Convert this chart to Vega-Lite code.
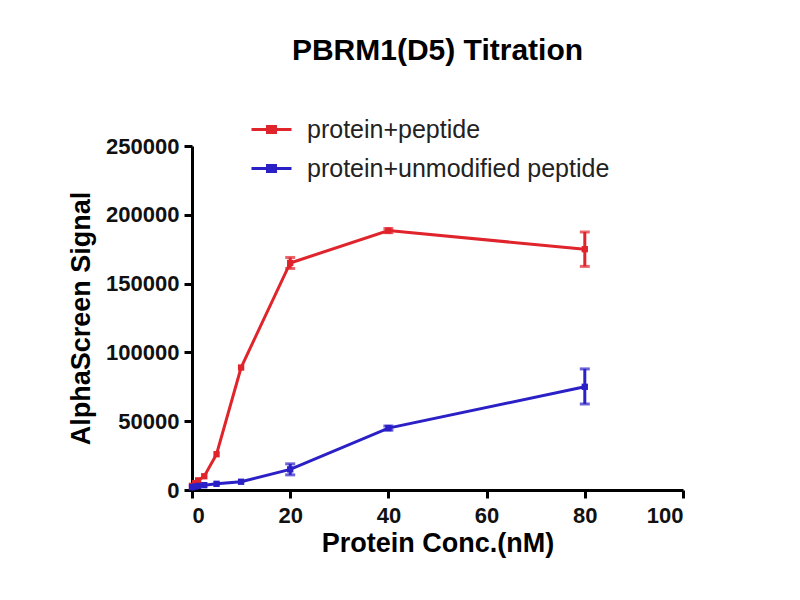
{
  "$schema": "https://vega.github.io/schema/vega-lite/v6.json",
  "autosize": {"type": "none"},
  "padding": {"left": 192, "top": 146, "right": 117, "bottom": 110},
  "width": 491,
  "height": 344,
  "background": "white",
  "title": {
    "text": "PBRM1(D5) Titration",
    "font": "Liberation Sans",
    "fontSize": 30,
    "fontWeight": "bold",
    "color": "#000000",
    "anchor": "middle",
    "frame": "group",
    "offset": 42
  },
  "data": {
    "values": [
      {"conc": 0, "signal": 3000, "series": "protein+peptide"},
      {"conc": 0.625, "signal": 5000, "series": "protein+peptide"},
      {"conc": 1.25, "signal": 7000, "series": "protein+peptide"},
      {"conc": 2.5, "signal": 10000, "series": "protein+peptide"},
      {"conc": 5, "signal": 26000, "series": "protein+peptide"},
      {"conc": 10, "signal": 89000, "series": "protein+peptide"},
      {"conc": 20, "signal": 165000, "lo": 161000, "hi": 169000, "series": "protein+peptide"},
      {"conc": 40, "signal": 188500, "lo": 187000, "hi": 190000, "series": "protein+peptide"},
      {"conc": 80, "signal": 175000, "lo": 162500, "hi": 187500, "series": "protein+peptide"},
      {"conc": 0, "signal": 2000, "series": "protein+unmodified peptide"},
      {"conc": 0.625, "signal": 2500, "series": "protein+unmodified peptide"},
      {"conc": 1.25, "signal": 3000, "series": "protein+unmodified peptide"},
      {"conc": 2.5, "signal": 3500, "series": "protein+unmodified peptide"},
      {"conc": 5, "signal": 4500, "series": "protein+unmodified peptide"},
      {"conc": 10, "signal": 6000, "series": "protein+unmodified peptide"},
      {"conc": 20, "signal": 15000, "lo": 11000, "hi": 19000, "series": "protein+unmodified peptide"},
      {"conc": 40, "signal": 45000, "lo": 43500, "hi": 46500, "series": "protein+unmodified peptide"},
      {"conc": 80, "signal": 75000, "lo": 62500, "hi": 88000, "series": "protein+unmodified peptide"}
    ]
  },
  "encoding": {
    "x": {
      "field": "conc",
      "type": "quantitative",
      "scale": {"domain": [0, 100], "nice": false},
      "axis": {"values": [0, 20, 40, 60, 80, 100], "title": "Protein Conc.(nM)", "titlePadding": 4, "labelPadding": 7}
    },
    "y": {
      "field": "signal",
      "type": "quantitative",
      "scale": {"domain": [0, 250000], "nice": false},
      "axis": {"values": [0, 50000, 100000, 150000, 200000, 250000], "format": "d", "title": "AlphaScreen Signal", "titlePadding": 10}
    },
    "color": {
      "field": "series",
      "type": "nominal",
      "scale": {"domain": ["protein+peptide", "protein+unmodified peptide"], "range": ["#e0242c", "#2b20c6"]},
      "legend": {
        "title": null,
        "orient": "none",
        "legendX": 58,
        "legendY": -38,
        "symbolType": "M-1,0L1,0M-0.2,-0.15L0.2,-0.15L0.2,0.15L-0.2,0.15Z",
        "symbolSize": 1600,
        "symbolStrokeWidth": 3,
        "labelFont": "Liberation Sans",
        "labelFontSize": 25,
        "labelColor": "#222222",
        "labelOffset": 14,
        "labelLimit": 500,
        "rowPadding": 4
      }
    }
  },
  "layer": [
    {"mark": {"type": "line", "strokeWidth": 3}},
    {"mark": {"type": "point", "shape": "square", "filled": true, "size": 40, "opacity": 1}},
    {
      "transform": [{"filter": "isValid(datum.lo)"}],
      "mark": {"type": "rule", "strokeWidth": 3},
      "encoding": {"y": {"field": "lo", "type": "quantitative"}, "y2": {"field": "hi"}}
    },
    {
      "transform": [{"filter": "isValid(datum.lo)"}, {"fold": ["lo", "hi"], "as": ["end", "cap"]}],
      "mark": {"type": "tick", "orient": "horizontal", "size": 10, "thickness": 3},
      "encoding": {"y": {"field": "cap", "type": "quantitative"}}
    }
  ],
  "config": {
    "view": {"stroke": null},
    "axis": {
      "grid": false,
      "domainColor": "#000000",
      "domainWidth": 3,
      "tickColor": "#000000",
      "tickWidth": 3,
      "tickSize": 8,
      "labelFont": "Liberation Sans",
      "labelFontSize": 22,
      "labelFontWeight": "bold",
      "labelColor": "#111111",
      "labelPadding": 5,
      "titleFont": "Liberation Sans",
      "titleFontSize": 27,
      "titleFontWeight": "bold",
      "titleColor": "#000000"
    }
  }
}
